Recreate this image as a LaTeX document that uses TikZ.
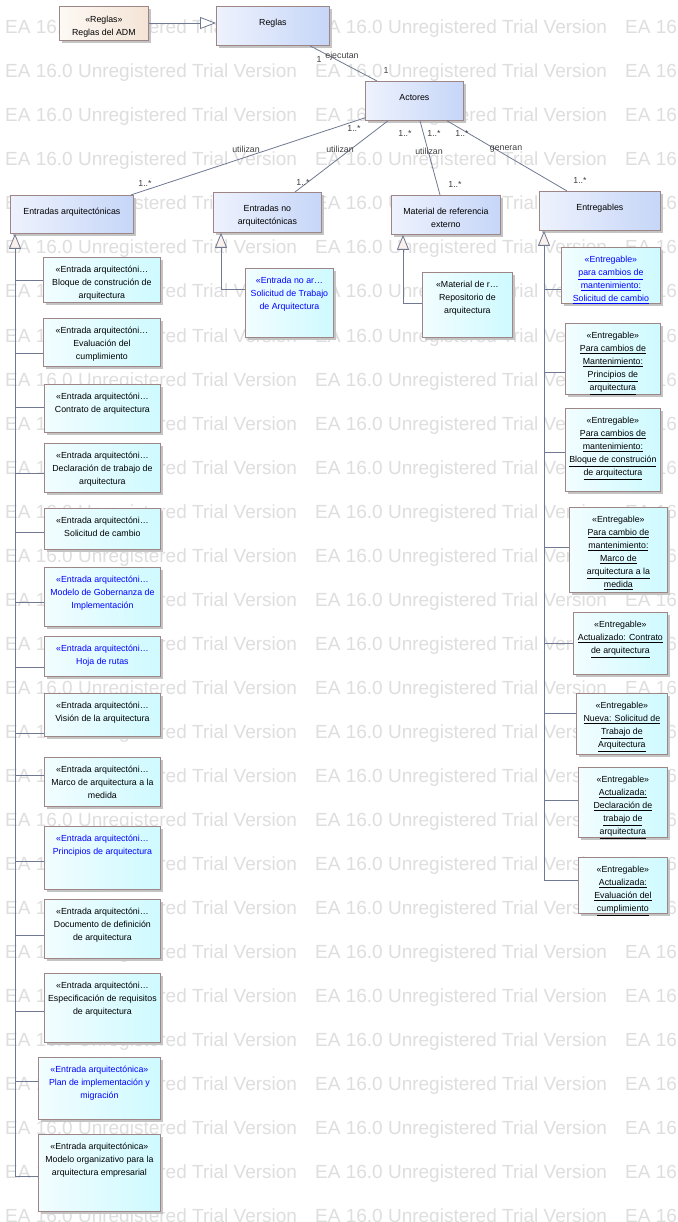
\documentclass[tikz,border=0pt]{standalone}
\usepackage{fontspec}
\setmainfont{Liberation Sans}
\usetikzlibrary{arrows.meta,shadows}
\definecolor{bordc}{RGB}{158,134,134}
\definecolor{linec}{RGB}{112,121,146}
\definecolor{pL}{RGB}{238,242,253}
\definecolor{pR}{RGB}{198,214,248}
\definecolor{cL}{RGB}{242,253,255}
\definecolor{cR}{RGB}{206,250,255}
\definecolor{aL}{RGB}{253,249,244}
\definecolor{aR}{RGB}{244,228,214}
\definecolor{wm}{RGB}{222,222,222}
\definecolor{tri}{RGB}{250,240,236}
\definecolor{eablue}{RGB}{0,0,255}
\definecolor{lbl}{RGB}{64,64,64}
\definecolor{shd}{RGB}{196,196,196}
\newcommand{\fs}{\rule{0pt}{8.5pt}}
\newcommand{\ul}[1]{\underline{#1}}
\tikzset{
 boxbase/.style={draw=bordc, line width=0.8pt, anchor=north west, inner sep=0pt,
   drop shadow={shadow xshift=2.5pt, shadow yshift=-2.5pt, fill=shd, opacity=1}},
 parentbox/.style={boxbase, left color=pL, right color=pR},
 childbox/.style={boxbase, left color=cL, right color=cR},
 admbox/.style={boxbase, left color=aL, right color=aR},
 boxtext/.style={anchor=north, align=center, inner sep=0pt, font=\fontsize{8.8}{13}\selectfont, text=black},
 bluetext/.style={text=eablue},
 ptext/.style={yshift=-3.5pt},
 atext/.style={yshift=-0.5pt},
 plain/.style={},
 lbltext/.style={inner sep=0pt, font=\fontsize{8.8}{10}\selectfont, text=lbl},
 conn/.style={draw=linec, line width=0.8pt},
 gen/.style={conn, {Triangle[length=15pt, width=12pt, fill=tri]}-},
 wmtext/.style={anchor=base west, inner sep=0pt, font=\fontsize{19}{19}\selectfont, text=wm},
}
% #1 box style, #2 text style, #3 name, #4 x, #5 y, #6 w, #7 h, #8 text
\newcommand{\umlbox}[8]{%
 \node[#1, minimum width=#6pt, minimum height=#7pt] (#3) at (#4,#5) {};
 \node[boxtext, #2] (#3-t) at ([yshift=-7pt]#3.north) {\fs #8};}
\begin{document}
\begin{tikzpicture}[x=1pt,y=-1pt]
\useasboundingbox[fill=white] (0,0) rectangle (677,1222);
% watermark
\foreach \r in {0,...,27}{\foreach \c in {5,315,625}{
  \node[wmtext] (wm-\r-\c) at (\c,{34+44*\r}) {EA 16.0 Unregistered Trial Version};}}

% parent boxes
\umlbox{admbox}{atext}{adm}{59}{6}{89}{34}{«Reglas»\\Reglas del ADM}
\umlbox{parentbox}{ptext}{reglas}{216}{6}{113}{39}{Reglas}
\umlbox{parentbox}{ptext}{act}{365}{81}{98}{39}{Actores}
\umlbox{parentbox}{ptext}{ea}{10}{195}{123}{38}{Entradas arquitectónicas}
\umlbox{parentbox}{ptext}{ena}{213}{192}{108}{40}{Entradas no\\arquitectónicas}
\umlbox{parentbox}{ptext}{mat}{391}{195}{109}{39}{Material de referencia\\externo}
\umlbox{parentbox}{ptext}{ent}{539}{191}{121}{39}{Entregables}

% left children
\umlbox{childbox}{plain}{c1}{43}{257}{117}{45}{«Entrada arquitectóni…\\Bloque de construción de\\arquitectura}
\umlbox{childbox}{plain}{c2}{43}{318}{117}{48}{«Entrada arquitectóni…\\Evaluación del\\cumplimiento}
\umlbox{childbox}{plain}{c3}{44}{384}{116}{48}{«Entrada arquitectóni…\\Contrato de arquitectura}
\umlbox{childbox}{plain}{c4}{44}{443}{116}{49}{«Entrada arquitectóni…\\Declaración de trabajo de\\arquitectura}
\umlbox{childbox}{plain}{c5}{44}{508}{116}{41}{«Entrada arquitectóni…\\Solicitud de cambio}
\umlbox{childbox}{bluetext}{c6}{44}{567}{116}{59}{«Entrada arquitectóni…\\Modelo de Gobernanza de\\Implementación}
\umlbox{childbox}{bluetext}{c7}{44}{636}{116}{40}{«Entrada arquitectóni…\\Hoja de rutas}
\umlbox{childbox}{plain}{c8}{44}{693}{116}{43}{«Entrada arquitectóni…\\Visión de la arquitectura}
\umlbox{childbox}{plain}{c9}{44}{757}{116}{49}{«Entrada arquitectóni…\\Marco de arquitectura a la\\medida}
\umlbox{childbox}{bluetext}{c10}{44}{826}{116}{63}{«Entrada arquitectóni…\\Principios de arquitectura}
\umlbox{childbox}{plain}{c11}{44}{899}{116}{59}{«Entrada arquitectóni…\\Documento de definición\\de arquitectura}
\umlbox{childbox}{plain}{c12}{44}{973}{116}{69}{«Entrada arquitectóni…\\Especificación de requisitos\\de arquitectura}
\umlbox{childbox}{bluetext}{c13}{38}{1057}{122}{62}{«Entrada arquitectónica»\\Plan de implementación y\\migración}
\umlbox{childbox}{plain}{c14}{38}{1134}{122}{77}{«Entrada arquitectónica»\\Modelo organizativo para la\\arquitectura empresarial}

% middle children
\umlbox{childbox}{bluetext}{sta}{245}{268}{88}{69}{«Entrada no ar…\\Solicitud de Trabajo\\de Arquitectura}
\umlbox{childbox}{plain}{rep}{422}{272}{90}{65}{«Material de r…\\Repositorio de\\arquitectura}

% right children
\umlbox{childbox}{bluetext}{r1}{561}{247}{99}{56}{«Entregable»\\\ul{para cambios de}\\\ul{mantenimiento:}\\\ul{Solicitud de cambio}}
\umlbox{childbox}{plain}{r2}{565}{323}{95}{71}{«Entregable»\\\ul{Para cambios de}\\\ul{Mantenimiento:}\\\ul{Principios de}\\\ul{arquitectura}}
\umlbox{childbox}{plain}{r3}{565}{408}{95}{83}{«Entregable»\\\ul{Para cambios de}\\\ul{mantenimiento:}\\\ul{Bloque de construción}\\\ul{de arquitectura}}
\umlbox{childbox}{plain}{r4}{569}{507}{98}{85}{«Entregable»\\\ul{Para cambio de}\\\ul{mantenimiento:}\\\ul{Marco de}\\\ul{arquitectura a la}\\\ul{medida}}
\umlbox{childbox}{plain}{r5}{573}{612}{94}{62}{«Entregable»\\\ul{Actualizado: Contrato}\\\ul{de arquitectura}}
\umlbox{childbox}{plain}{r6}{576}{693}{91}{61}{«Entregable»\\\ul{Nueva: Solicitud de}\\\ul{Trabajo de}\\\ul{Arquitectura}}
\umlbox{childbox}{plain}{r7}{578}{767}{89}{70}{«Entregable»\\\ul{Actualizada:}\\\ul{Declaración de}\\\ul{trabajo de}\\\ul{arquitectura}}
\umlbox{childbox}{plain}{r8}{578}{857}{89}{56}{«Entregable»\\\ul{Actualizada:}\\\ul{Evaluación del}\\\ul{cumplimiento}}

% generalization ADM -> Reglas
\draw[conn, -{Triangle[length=16pt, width=12pt, fill=white]}] (adm.east |- 0,23) -- (reglas.west |- 0,23);

% associations
\draw[conn] ([xshift=94pt]reglas.south west) -- ([xshift=12pt]act.north west);
\draw[conn] ([yshift=3pt]act.south west) -- ([xshift=-3pt]ea.north east);
\draw[conn] ([xshift=23pt]act.south west) -- ([xshift=82pt]ena.north west);
\draw[conn] ([xshift=55pt]act.south west) -- ([xshift=49pt]mat.north west);
\draw[conn] ([xshift=82pt]act.south west) -- ([xshift=28pt]ent.north west);

% labels
\node[lbltext] (l-r1) at (319,59) {1};
\node[lbltext] (l-ej) at (342,56) {ejecutan};
\node[lbltext] (l-a1) at (386,70) {1};
\node[lbltext] (l-u1) at (246,149) {utilizan};
\node[lbltext] (l-m1) at (145,183) {1..*};
\node[lbltext] (l-m2) at (354,128) {1..*};
\node[lbltext] (l-u2) at (340,149) {utilizan};
\node[lbltext] (l-m3) at (303,182) {1..*};
\node[lbltext] (l-m4) at (405,133) {1..*};
\node[lbltext] (l-u3) at (429,151) {utilizan};
\node[lbltext] (l-m5) at (434,133) {1..*};
\node[lbltext] (l-m6) at (455,184) {1..*};
\node[lbltext] (l-m7) at (462,133) {1..*};
\node[lbltext] (l-g) at (506,149) {generan};
\node[lbltext] (l-m8) at (580,180) {1..*};

% left generalization tree
\coordinate (trL) at (15,1176);
\draw[gen] (trL |- ea.south) -- (trL);
\foreach \n/\y in {c1/280,c2/353,c3/407,c4/473,c5/532,c6/602,c7/667,c8/733,c9/775,c10/861,c11/935,c12/1011,c13/1081,c14/1176}
  \draw[conn] (trL |- 0,\y) -- (\n.west |- 0,\y);

% middle trees
\draw[gen] ([xshift=8pt]ena.south west) |- (sta.west |- 0,289);
\draw[gen] ([xshift=12pt]mat.south west) |- (rep.west |- 0,303);

% right generalization tree
\coordinate (trR) at (544,880);
\draw[gen] (trR |- ent.south) -- (trR);
\foreach \n/\y in {r1/289,r2/372,r3/452,r4/547,r5/643,r6/713,r7/800,r8/880}
  \draw[conn] (trR |- 0,\y) -- (\n.west |- 0,\y);
\end{tikzpicture}
\end{document}
